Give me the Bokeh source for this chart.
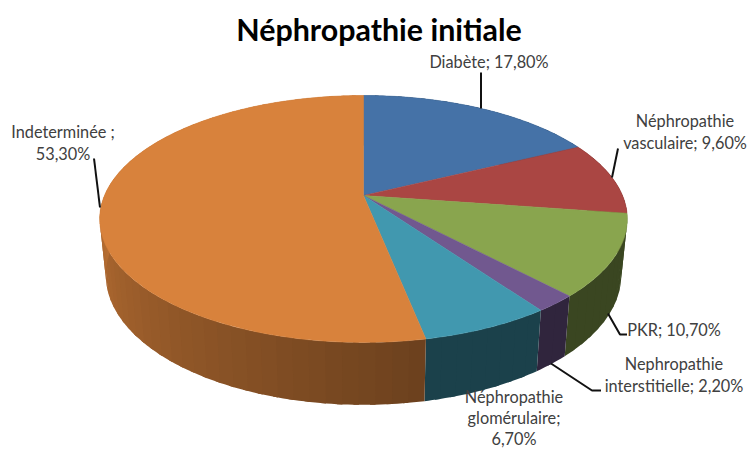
import math
from bokeh.plotting import figure
from bokeh.models import Range1d
from bokeh.core.properties import value
from bokeh.embed import file_html
from bokeh.resources import INLINE

title_text = "Néphropathie initiale"
categories = ["Diabète", "Néphropathie vasculaire", "PKR", "Nephropathie interstitielle",
              "Néphropathie glomérulaire", "Indeterminée"]
values = [17.8, 9.6, 10.7, 2.2, 6.7, 53.3]
colors = ["#4572A7", "#AA4643", "#89A54E", "#71588F", "#4198AF", "#D8823C"]
label_lines = [
    ["Diabète; 17,80%"],
    ["Néphropathie", "vasculaire; 9,60%"],
    ["PKR; 10,70%"],
    ["Nephropathie", "interstitielle; 2,20%"],
    ["Néphropathie", "glomérulaire;", "6,70%"],
    ["Indeterminée ;", "53,30%"],
]
label_pos = [(490, [61]), (686, [120, 142]), (675, [329]), (675, [363, 385]),
             (515, [396, 417, 438]), (64, [131, 153])]
leaders = [
    [(482, 72), (482, 108)],
    [(619, 148), (613, 177)],
    [(609, 313), (621, 334), (628, 334)],
    [(552, 363), (593, 390), (602, 390)],
    None,
    [(95, 158), (101, 207)],
]

W, H = 753, 449
p = figure(width=W, height=H, output_backend="svg", toolbar_location=None,
           x_range=Range1d(1.5, W + 1.5), y_range=Range1d(H, 0), min_border=0)
p.axis.visible = False
p.grid.visible = False
p.outline_line_color = None


def project(theta, cx, cy, a, b, k=0.19):
    X, Y = math.sin(theta), math.cos(theta)
    w = 1 + k * Y
    return cx + a * X / w, cy + b * Y / w * -1


def top(t):
    return project(t, 364.5, 195, 259, 119)


def bottom(t):
    return project(t, 364.5, 250, 253, 125)


def shade(hexcol, f):
    r, g, b = (int(hexcol[i:i + 2], 16) for i in (1, 3, 5))
    return "#%02x%02x%02x" % (int(r * f), int(g * f), int(b * f))


def wall_factor(deg):
    if deg < 168:
        return 0.43
    if deg < 275:
        return 0.5 + (deg - 168) / 107 * 0.37
    return 0.87


total = sum(values)
edges = [0.0]
for v in values:
    edges.append(edges[-1] + v / total * 360)

STEP = 3.0
# side wall: bands drawn in order, each one running under the next
for i, col in enumerate(colors):
    a0, a1 = edges[i], edges[i + 1]
    n = max(1, int((a1 - a0) / STEP))
    for j in range(n):
        d0 = a0 + (a1 - a0) * j / n
        d1 = a0 + (a1 - a0) * (j + 1) / n
        end = d1 + 1.0 if j < n - 1 else d1
        ts = [math.radians(d0 + (end - d0) * s / 4) for s in range(5)]
        pts = [top(t) for t in ts] + [bottom(t) for t in reversed(ts)]
        c = shade(col, wall_factor((d0 + d1) / 2))
        p.patch([q[0] for q in pts], [q[1] for q in pts], fill_color=c, line_color=None)

# top surface
for i, col in enumerate(colors):
    a0, a1 = edges[i], edges[i + 1]
    n = max(2, int((a1 - a0) / 1.0))
    pts = [(364.5, 195)] + [top(math.radians(a0 + (a1 - a0) * j / n)) for j in range(n + 1)]
    p.patch([q[0] for q in pts], [q[1] for q in pts], fill_color=col, line_color=col, line_width=0.5)

# leader lines
for seg in leaders:
    if seg:
        p.line([q[0] for q in seg], [q[1] for q in seg], line_color="#111111", line_width=2)

# labels
for lines, (x, ys) in zip(label_lines, label_pos):
    for line, y in zip(lines, ys):
        p.text([x], [y], text=[line], text_font=value("Lato"), text_font_size="16.3px",
               text_color="#404040", text_align="center", text_baseline="middle")

p.text([380], [28], text=[title_text], text_font=value("Lato"), text_font_size="30.4px",
       text_font_style="bold", text_color="#000000", text_align="center", text_baseline="middle")

open("out.html", "w").write(file_html(p, INLINE))
